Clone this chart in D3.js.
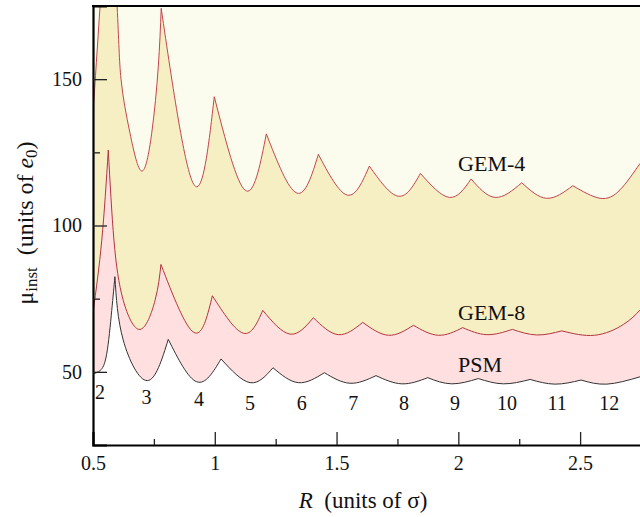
<!DOCTYPE html>
<html>
<head>
<meta charset="utf-8">
<script src="https://cdn.jsdelivr.net/npm/d3@7"></script>
<style>
  body { margin: 0; background: #fff; }
  text { font-family: "Liberation Serif", "DejaVu Serif", serif; fill: #111; }
</style>
</head>
<body>
<svg width="640" height="517"></svg>
<script>
// curves: [R, mu]; every local maximum is a cusp
const gem4 = [
  [0.500, 138.4], [0.529, 175.0], [0.565, 222.0], [0.599, 175.0], [0.615, 150.0],
  [0.652, 131.5], [0.700, 118.6], [0.741, 131.5], [0.768, 154.2], [0.780, 174.2],
  [0.9135, 114.1], [0.998, 144.0],
  [1.1255, 112.0], [1.2117, 131.3], [1.3365, 111.1], [1.4253, 124.3],
  [1.5444, 110.4], [1.6347, 120.3], [1.7538, 110.0], [1.8442, 117.8], [1.9633, 109.6],
  [2.0524, 115.9], [2.151, 109.6], [2.2606, 114.6], [2.363, 109.3], [2.470, 113.6],
  [2.582, 109.3], [2.664, 112.2], [2.746, 121.2]
];
const gem8 = [
  [0.500, 70.2], [0.536, 95.0], [0.5628, 125.8], [0.586, 95.0], [0.624, 74.5],
  [0.693, 64.5], [0.755, 74.5], [0.779, 86.7], [0.9135, 63.5],
  [0.990, 76.0], [1.117, 63.2], [1.197, 71.0], [1.309, 62.9], [1.4048, 68.5],
  [1.507, 62.7], [1.6075, 66.9], [1.713, 62.5], [1.8155, 65.9], [1.918, 62.5],
  [2.018, 65.1], [2.117, 62.7], [2.222, 64.5], [2.322, 62.6], [2.425, 64.0],
  [2.560, 62.5], [2.678, 66.2], [2.746, 71.1]
];
const psm = [
  [0.500, 49.3], [0.530, 50.5], [0.556, 56.0], [0.577, 71.0], [0.590, 82.5],
  [0.624, 60.9], [0.723, 47.0], [0.809, 61.1], [0.926, 46.6],
  [1.0257, 54.4], [1.145, 46.3], [1.239, 51.4], [1.343, 46.3], [1.450, 49.7],
  [1.555, 46.1], [1.662, 48.7], [1.768, 45.9], [1.8745, 48.0], [1.973, 45.9],
  [2.082, 47.7], [2.185, 45.9], [2.295, 47.4], [2.397, 45.8], [2.504, 47.2],
  [2.610, 45.8], [2.746, 48.3]
];

// shell numbers under the PSM curve
const shellNums = ['2', '3', '4', '5', '6', '7', '8', '9', '10', '11', '12'];
const shellR = [0.529, 0.720, 0.935, 1.145, 1.357, 1.569, 1.777, 1.986, 2.200, 2.406, 2.620];
const shellMu = [43.2, 41.5, 40.6, 39.5, 39.2, 39.2, 39.2, 39.2, 39.2, 39.2, 39.2];

const curveNames = ['GEM-4', 'GEM-8', 'PSM'];
const curveLabelR = [2.137, 2.137, 2.089];
const curveLabelMu = [121.4, 70.5, 52.7];

const xMajor = [0.5, 1, 1.5, 2, 2.5];
const xMinor = [0.75, 1.25, 1.75, 2.25];
const yMajor = [50, 100, 150];
const yMinor = [75, 125];

const mLeft = 93, mTop = 6, mBottom = 445, mRight = 641;
const svg = d3.select('svg');

const x = d3.scaleLinear().domain([0.5, 2.75]).range([mLeft, mRight]);
const y = d3.scaleLinear().domain([25, 175]).range([mBottom, mTop]);

svg.append('defs').append('clipPath').attr('id', 'clip')
  .append('rect')
  .attr('x', mLeft).attr('y', mTop)
  .attr('width', mRight - mLeft).attr('height', mBottom - mTop);

// split at cusps so each scallop is smooth but the peaks stay sharp
function curvePath(pts) {
  const line = d3.line().x(d => x(d[0])).y(d => y(d[1])).curve(d3.curveNatural);
  const segs = [];
  let cur = [pts[0]];
  for (let i = 1; i < pts.length; i++) {
    cur.push(pts[i]);
    const isCusp = i < pts.length - 1 && pts[i][1] > pts[i - 1][1] && pts[i][1] > pts[i + 1][1];
    if (isCusp) {
      segs.push(cur);
      cur = [pts[i]];
    }
  }
  if (cur.length > 1) segs.push(cur);
  return segs.map((s, i) => {
    const p = line(s);
    return i === 0 ? p : 'L' + p.slice(1);
  }).join('');
}

function areaPath(pts) {
  return curvePath(pts) + `L${x(pts[pts.length - 1][0])},${mBottom + 5}L${x(pts[0][0])},${mBottom + 5}Z`;
}

const plot = svg.append('g').attr('clip-path', 'url(#clip)');

plot.append('rect')
  .attr('x', mLeft).attr('y', mTop)
  .attr('width', mRight - mLeft).attr('height', mBottom - mTop)
  .attr('fill', '#fbfbee');

const layers = [
  { pts: gem4, fill: '#f6efc3', stroke: '#c2464e' },
  { pts: gem8, fill: '#ffdfe0', stroke: '#b2363e' },
  { pts: psm, fill: '#ffffff', stroke: '#333333' },
];

layers.forEach((l) => {
  plot.append('path').attr('d', areaPath(l.pts)).attr('fill', l.fill);
});
layers.forEach((l) => {
  plot.append('path')
    .attr('d', curvePath(l.pts))
    .attr('fill', 'none')
    .attr('stroke', l.stroke)
    .attr('stroke-width', 1);
});

// curve names
svg.append('g').selectAll('text')
  .data(curveNames)
  .join('text')
  .attr('x', (d, i) => x(curveLabelR[i]))
  .attr('y', (d, i) => y(curveLabelMu[i]))
  .attr('text-anchor', 'middle')
  .attr('dy', '0.35em')
  .style('font-size', '22px')
  .text(d => d);

// shell numbers
svg.append('g').selectAll('text')
  .data(shellNums)
  .join('text')
  .attr('x', (d, i) => x(shellR[i]))
  .attr('y', (d, i) => y(shellMu[i]))
  .attr('text-anchor', 'middle')
  .attr('dy', '0.35em')
  .style('font-size', '20px')
  .text(d => d);

// axes, ticks point inward
const fmt = d3.format('~g');
svg.append('g').attr('transform', `translate(0,${mBottom})`)
  .call(d3.axisBottom(x).tickValues(xMajor).tickSize(-13).tickPadding(11).tickFormat(fmt));
svg.append('g').attr('transform', `translate(0,${mBottom})`)
  .call(d3.axisBottom(x).tickValues(xMinor).tickSize(-6).tickFormat(''))
  .select('.domain').remove();

svg.append('g').attr('transform', `translate(${mLeft},0)`)
  .call(d3.axisLeft(y).tickValues(yMajor).tickSize(-14).tickPadding(11).tickFormat(fmt));
svg.append('g').attr('transform', `translate(${mLeft},0)`)
  .call(d3.axisLeft(y).tickValues(yMinor).tickSize(-7).tickFormat(''))
  .select('.domain').remove();

svg.selectAll('.domain').attr('stroke', '#000').attr('stroke-width', 2.2);
svg.selectAll('.tick line').attr('stroke', '#222').attr('stroke-width', 1.3);
svg.selectAll('.tick text')
  .style('font-family', '"Liberation Serif", serif')
  .style('font-size', '20px')
  .attr('fill', '#111');

// top frame line
svg.append('line')
  .attr('x1', mLeft - 1).attr('x2', mRight)
  .attr('y1', mTop).attr('y2', mTop)
  .attr('stroke', '#000').attr('stroke-width', 2.2);

// axis titles
const xt = svg.append('text')
  .attr('x', 363).attr('y', 508)
  .attr('text-anchor', 'middle')
  .style('font-size', '23px')
  .style('white-space', 'pre');
xt.append('tspan').style('font-style', 'italic').text('R');
xt.append('tspan').text('  (units of σ)');

const yt = svg.append('text')
  .attr('transform', 'translate(33,223) rotate(-90)')
  .attr('text-anchor', 'middle')
  .style('font-size', '24px')
  .style('white-space', 'pre');
yt.append('tspan').text('μ');
yt.append('tspan').attr('baseline-shift', '-25%').style('font-size', '17px').text('inst');
yt.append('tspan').text('  (units of ');
yt.append('tspan').style('font-style', 'italic').text('e');
yt.append('tspan').attr('baseline-shift', '-25%').style('font-size', '17px').text('0');
yt.append('tspan').text(')');
</script>
</body>
</html>
